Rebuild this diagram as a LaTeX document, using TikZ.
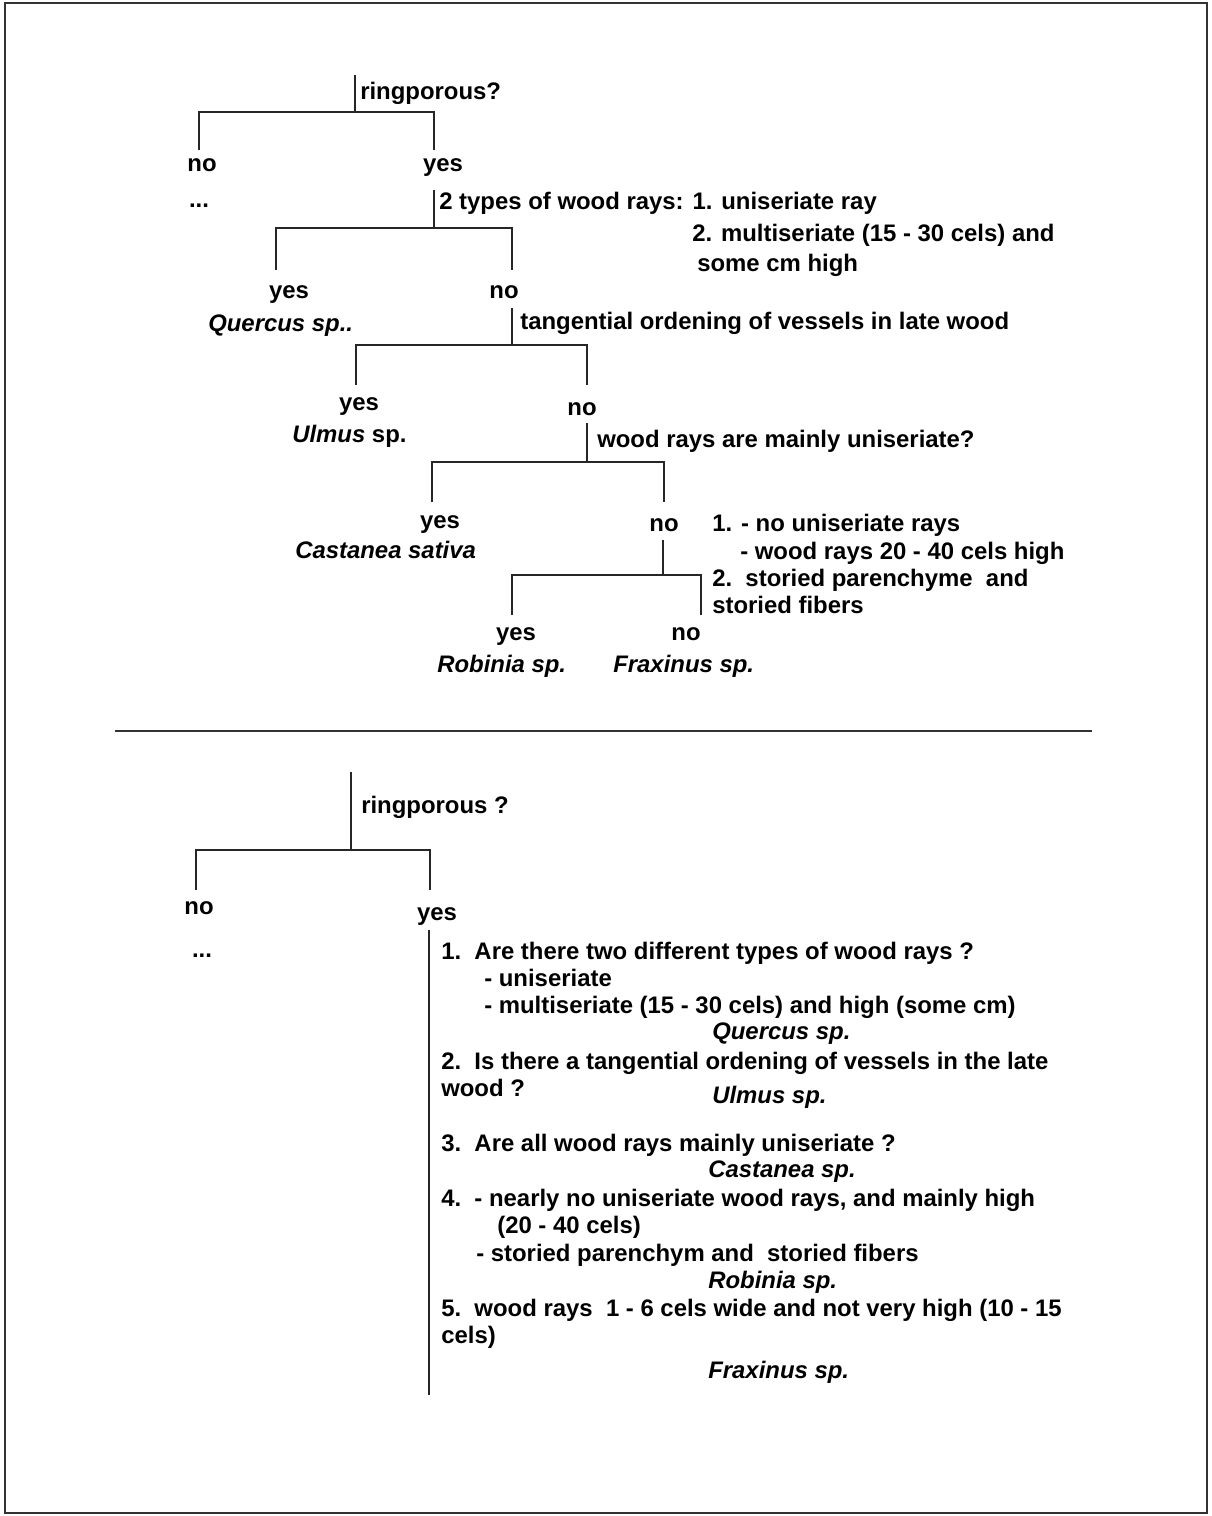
\documentclass[tikz,border=0pt]{standalone}
\usepackage{fontspec}
\setmainfont{Liberation Sans}
\tikzset{
	branch/.style={line width=1.2pt, draw=black!85},
	ans/.style={anchor=base, inner sep=0pt, text=black, font=\fontsize{17}{20}\selectfont\bfseries},
	txt/.style={anchor=base west, inner sep=0pt, text=black, font=\fontsize{17}{20}\selectfont\bfseries},
	spec/.style={txt, font=\fontsize{17}{20}\selectfont\bfseries\itshape}
}
\begin{document}
\begin{tikzpicture}[x=0.025cm, y=-0.025cm]
	\useasboundingbox (0,0) rectangle (1211,1516);
	\draw[line width=2pt, draw=black!80] (5,3) rectangle (1207,1513);
	% first key: a tree
	\coordinate (sA) at (355,75);  \coordinate (jA) at (355,112);
	\coordinate (lA) at (199,150); \coordinate (rA) at (434,150);
	\coordinate (sB) at (434,190); \coordinate (jB) at (434,228);
	\coordinate (lB) at (276,270); \coordinate (rB) at (512,270);
	\coordinate (sC) at (512,308); \coordinate (jC) at (512,345);
	\coordinate (lC) at (356,385); \coordinate (rC) at (587,385);
	\coordinate (sD) at (587,423); \coordinate (jD) at (587,462);
	\coordinate (lD) at (432,502); \coordinate (rD) at (664,502);
	\coordinate (sE) at (663,540); \coordinate (jE) at (663,575);
	\coordinate (lE) at (512,615); \coordinate (rE) at (701,615);
	\draw[branch] (sA) -- (jA);
	\draw[branch] (lA) |- (jA) -| (rA);
	\draw[branch] (sB) -- (jB);
	\draw[branch] (lB) |- (jB) -| (rB);
	\draw[branch] (sC) -- (jC);
	\draw[branch] (lC) |- (jC) -| (rC);
	\draw[branch] (sD) -- (jD);
	\draw[branch] (lD) |- (jD) -| (rD);
	\draw[branch] (sE) -- (jE);
	\draw[branch] (lE) |- (jE) -| (rE);

	\node[txt] (qA) at (360,100) {ringporous?};
	\node[ans] (nA) at (202,172) {no};
	\node[ans] (yA) at (443,172) {yes};
	\node[ans] (dotA) at (199,208) {...};
	\node[txt] (qB) at (439,210) {2 types of wood rays: 1. uniseriate ray};
	\node[txt] (qB2) at (692,242) {2. multiseriate (15 - 30 cels) and};
	\node[txt] (qB3) at (697,272) {some cm high};
	\node[ans] (yB) at (289,299) {yes};
	\node[ans] (nB) at (504,299) {no};
	\node[spec] (quer) at (208,331) {Quercus sp..};
	\node[txt] (qC) at (520,329) {tangential ordening of vessels in late wood};
	\node[ans] (yC) at (359,410) {yes};
	\node[ans] (nC) at (582,415) {no};
	\node[txt] (ulm) at (292,442) {\itshape Ulmus\upshape\ sp.};
	\node[txt] (qD) at (597,447) {wood rays are mainly uniseriate?};
	\node[ans] (yD) at (440,528) {yes};
	\node[ans] (nD) at (664,531) {no};
	\node[spec] (cast) at (295,558) {Castanea sativa};
	\node[txt] (qE) at (712,531) {1. - no uniseriate rays};
	\node[txt] (qE2) at (740,559) {- wood rays 20 - 40 cels high};
	\node[txt] (qE3) at (712,586) {2.\ \ storied parenchyme\ \ and};
	\node[txt] (qE4) at (712,613) {storied fibers};
	\node[ans] (yE) at (516,640) {yes};
	\node[ans] (nE) at (686,640) {no};
	\node[spec] (rob) at (437,672) {Robinia sp.};
	\node[spec] (frax) at (613,672) {Fraxinus sp.};

	\draw[line width=1.2pt, draw=black!80] (115,731) -- (1092,731);

	% second key: a list
	\coordinate (sF) at (351,772); \coordinate (jF) at (351,850);
	\coordinate (lF) at (196,890); \coordinate (rF) at (430,890);
	\coordinate (tF) at (429,930); \coordinate (bF) at (429,1395);
	\draw[branch] (sF) -- (jF);
	\draw[branch] (lF) |- (jF) -| (rF);
	\draw[branch] (tF) -- (bF);

	\node[txt] (qF) at (361,813) {ringporous ?};
	\node[ans] (nF) at (199,914) {no};
	\node[ans] (yF) at (437,920) {yes};
	\node[ans] (dotF) at (202,957) {...};
	\node[txt] (k1) at (441,959) {1.\ \ Are there two different types of wood rays ?};
	\node[txt] (k1a) at (484,986) {- uniseriate};
	\node[txt] (k1b) at (484,1013) {- multiseriate (15 - 30 cels) and high (some cm)};
	\node[spec] (k1s) at (712,1039) {Quercus sp.};
	\node[txt] (k2) at (441,1069) {2.\ \ Is there a tangential ordening of vessels in the late};
	\node[txt] (k2a) at (441,1096) {wood ?};
	\node[spec] (k2s) at (712,1103) {Ulmus sp.};
	\node[txt] (k3) at (441,1151) {3.\ \ Are all wood rays mainly uniseriate ?};
	\node[spec] (k3s) at (708,1177) {Castanea sp.};
	\node[txt] (k4) at (441,1206) {4.\ \ - nearly no uniseriate wood rays, and mainly high};
	\node[txt] (k4a) at (497,1233) {(20 - 40 cels)};
	\node[txt] (k4b) at (476,1261) {- storied parenchym and\ \ storied fibers};
	\node[spec] (k4s) at (708,1288) {Robinia sp.};
	\node[txt] (k5) at (441,1316) {5.\ \ wood rays\ \ 1 - 6 cels wide and not very high (10 - 15};
	\node[txt] (k5a) at (441,1343) {cels)};
	\node[spec] (k5s) at (708,1378) {Fraxinus sp.};
\end{tikzpicture}
\end{document}
